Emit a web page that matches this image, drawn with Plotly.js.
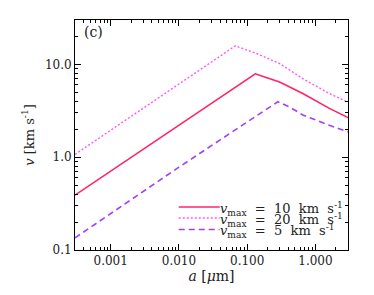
<!DOCTYPE html>
<html>
<head>
<meta charset="utf-8">
<script src="https://cdn.plot.ly/plotly-3.0.1.min.js"></script>
<style>html,body{margin:0;padding:0;background:#fff;}#chart{width:374px;height:295px;}</style>
</head>
<body>
<div id="chart"></div>
<script>
// ---- data ----
const seriesNames = ["10", "20", "5"];
const aRed = [0.0003, 0.01, 0.1315, 0.19, 0.298, 0.653, 1.60, 3.0];
const vRed = [0.39, 2.2, 7.9, 7.2, 6.45, 4.85, 3.35, 2.67];
const aMag = [0.0003, 0.01, 0.067, 0.136, 0.298, 0.653, 1.60, 3.0];
const vMag = [1.07, 6.2, 15.8, 13.1, 10.2, 7.0, 4.85, 3.9];
const aPur = [0.0003, 0.01, 0.281, 0.417, 0.653, 1.60, 3.0];
const vPur = [0.135, 0.78, 3.95, 3.47, 2.85, 2.2, 1.88];
const xTickVals = [0.001, 0.01, 0.1, 1];
const xTickText = ["0.001", "0.010", "0.100", "1.000"];
const yTickVals = [0.1, 1, 10];
const yTickText = ["0.1", "1.0", "10.0"];

const FONT = "DejaVu Serif, Liberation Serif, serif";
const colors = ["#ff2468", "#ff55ff", "#a040ff"];
const dashes = ["solid", "2px,2px", "6px,4px"];
const widths = [1.6, 1.4, 1.6];
const xs = [aRed, aMag, aPur];
const ys = [vRed, vMag, vPur];

function minorTicks(lo, hi) {
  const out = [];
  for (let e = lo; e <= hi; e++) {
    for (let m = 2; m <= 9; m++) out.push(m * Math.pow(10, e));
  }
  return out;
}

const traces = xs.map((x, i) => ({
  x: x, y: ys[i], type: "scatter", mode: "lines",
  name: seriesNames[i], showlegend: false, hoverinfo: "skip",
  line: {color: colors[i], width: widths[i], dash: dashes[i]}
}));

// manual legend
const legY = [0.187, 0.139, 0.089];
const shapes = [];
const annotations = [];
const SP = "\u00A0";
seriesNames.forEach((n, i) => {
  shapes.push({type: "line", xref: "paper", yref: "paper",
    x0: 0.38, x1: 0.53, y0: legY[i], y1: legY[i],
    line: {color: colors[i], width: widths[i], dash: dashes[i]}});
  annotations.push({xref: "paper", yref: "paper", x: 0.528, y: legY[i] - 0.008,
    xanchor: "left", yanchor: "middle", showarrow: false, borderpad: 0,
    text: "<i>v</i><sub>max</sub>" + SP + SP + "=" + SP + SP + n + SP + SP + "km" + SP + SP + "s<sup>-1</sup>",
    font: {family: FONT, size: 13, color: "#222"}});
});
annotations.push({xref: "paper", yref: "paper", x: 0.027, y: 0.99,
  xanchor: "left", yanchor: "top", showarrow: false, text: "(c)",
  font: {family: FONT, size: 14, color: "#222"}});

const axisCommon = {
  type: "log", showgrid: false, zeroline: false,
  showline: true, linecolor: "#000", linewidth: 1, mirror: "ticks",
  ticks: "inside", ticklen: 6, tickcolor: "#000", tickwidth: 1,
  tickmode: "array", tickfont: {family: FONT, size: 12, color: "#222"}
};

const layout = {
  width: 374, height: 295,
  margin: {l: 75, r: 25.5, t: 20, b: 45},
  paper_bgcolor: "#fff", plot_bgcolor: "#fff",
  showlegend: false,
  xaxis: Object.assign({}, axisCommon, {
    range: [Math.log10(0.0003), Math.log10(3)],
    tickvals: xTickVals, ticktext: xTickText,
    minor: {tickmode: "array", tickvals: minorTicks(-4, 0), ticks: "inside", ticklen: 3, tickcolor: "#000", showgrid: false},
    title: {text: "<i>a</i>" + SP + "[<i>μ</i>m]", font: {family: FONT, size: 14, color: "#222"}, standoff: 3}
  }),
  yaxis: Object.assign({}, axisCommon, {
    range: [Math.log10(0.1), Math.log10(30)],
    tickvals: yTickVals, ticktext: yTickText,
    minor: {tickmode: "array", tickvals: minorTicks(-1, 1), ticks: "inside", ticklen: 3, tickcolor: "#000", showgrid: false},
    title: {text: "<i>v</i>" + SP + "[km" + SP + "s<sup>-1</sup>]", font: {family: FONT, size: 13, color: "#222"}, standoff: 7}
  }),
  shapes: shapes,
  annotations: annotations
};

Plotly.newPlot("chart", traces, layout, {staticPlot: true, displayModeBar: false});
</script>
</body>
</html>
